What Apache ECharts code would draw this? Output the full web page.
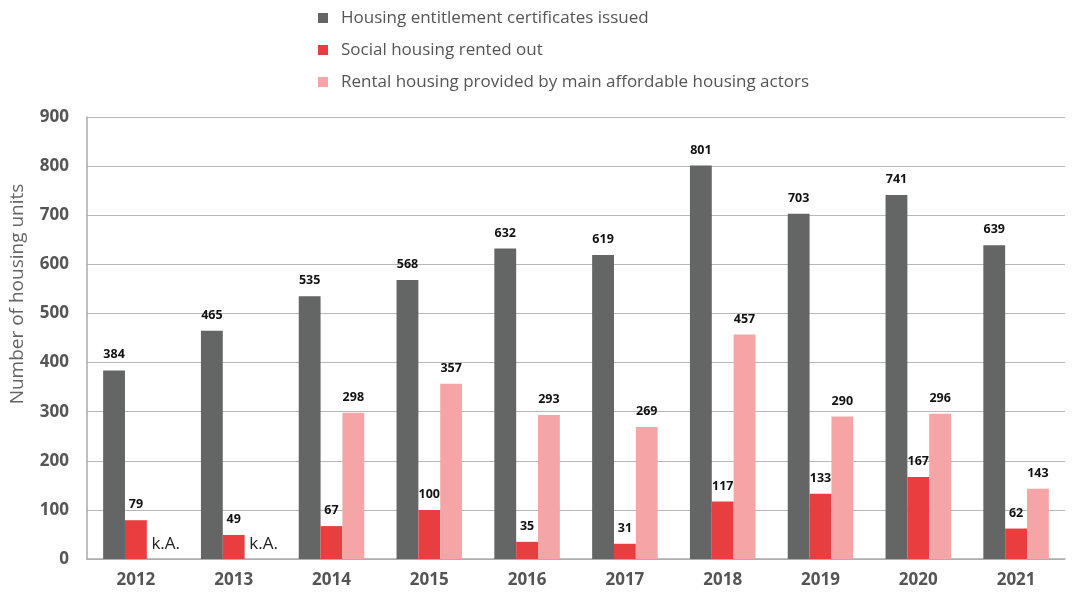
<!DOCTYPE html>
<html><head><meta charset="utf-8">
<script src="https://cdn.jsdelivr.net/npm/echarts@6/dist/echarts.min.js"></script>
<style>html,body{margin:0;padding:0;background:#fff}#c{width:1072px;height:594px}</style>
</head><body><div id="c"></div>
<script>
const years = ['2012','2013','2014','2015','2016','2017','2018','2019','2020','2021'];
const certificates = [384,465,535,568,632,619,801,703,741,639];
const socialRented = [79,49,67,100,35,31,117,133,167,62];
const rentalActors = [null,null,298,357,293,269,457,290,296,143];
const yTicks = [0,100,200,300,400,500,600,700,800,900];
const names = ['Housing entitlement certificates issued','Social housing rented out','Rental housing provided by main affordable housing actors'];
const colors = ['#636665','#e83e3f','#f5a5a6'];

const lbl = {show:true, position:'top', distance:9, color:'#111', fontWeight:'bold', fontSize:12.5, fontFamily:'Open Sans'};
const pinkData = rentalActors.map(v => v === null
  ? {value:0, label:{show:true, formatter:'k.A.', fontWeight:'normal', fontSize:17, color:'#222', distance:6, offset:[8,0]}}
  : v);

const chart = echarts.init(document.getElementById('c'));
chart.setOption({
  animation:false,
  legend:{
    orient:'vertical', left:313, top:4, itemWidth:10, itemHeight:10, itemGap:14,
    icon:'rect',
    textStyle:{fontSize:17, color:'#555', fontFamily:'Open Sans', lineHeight:18, padding:[0,0,0,8]},
    data:names
  },
  grid:{left:85, right:7, top:117, bottom:35},
  xAxis:{
    type:'category', data:years,
    axisLine:{lineStyle:{color:'#aaa', width:1.5}},
    axisTick:{show:false},
    axisLabel:{color:'#555', fontWeight:'bold', fontSize:17, margin:13, fontFamily:'Open Sans'}
  },
  yAxis:{
    type:'value', min:yTicks[0], max:yTicks[yTicks.length-1], interval:100,
    name:'Number of housing units', nameLocation:'middle', nameGap:60,
    nameTextStyle:{fontSize:19, color:'#666', fontFamily:'Open Sans', padding:[0,0,0,88]},
    axisLine:{show:true, lineStyle:{color:'#aaa', width:1.5}},
    axisTick:{show:false},
    splitLine:{lineStyle:{color:'#b8b8b8', width:1.2}},
    axisLabel:{color:'#555', fontWeight:'bold', fontSize:17, margin:18, fontFamily:'Open Sans'}
  },
  series:[
    {name:names[0], type:'bar', data:certificates, itemStyle:{color:colors[0]}, label:lbl, barGap:'0%', barCategoryGap:'33%'},
    {name:names[1], type:'bar', data:socialRented, itemStyle:{color:colors[1]}, label:lbl},
    {name:names[2], type:'bar', data:pinkData, itemStyle:{color:colors[2]}, label:lbl}
  ]
});
</script></body></html>
